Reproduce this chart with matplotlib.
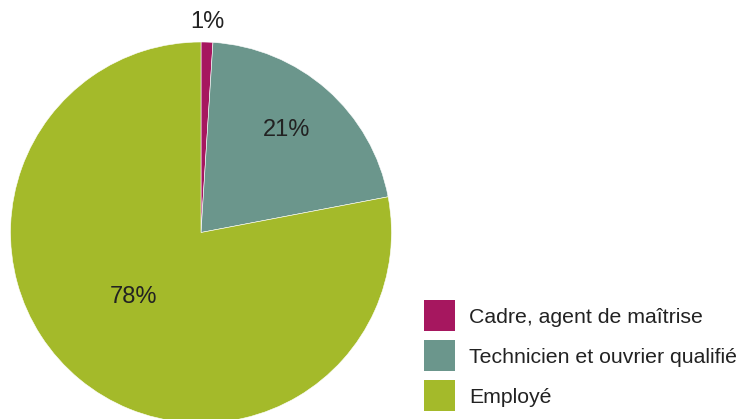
import matplotlib.pyplot as plt
from matplotlib.patches import Rectangle
import numpy as np

plt.rcParams['font.family'] = ['Liberation Sans', 'DejaVu Sans']

categories = ["Cadre, agent de maîtrise", "Technicien et ouvrier qualifié", "Employé"]
shares = [1, 21, 78]
colors = ["#A6175F", "#6B968C", "#A4BA2A"]

# label placement: radial distance (in radii) and angle nudge (degrees)
label_dist = [1.106, 0.70, 0.49]
label_nudge = [0, 1.4, -6.9]

W, H = 740, 419
fig = plt.figure(figsize=(W / 100, H / 100), dpi=100)

# pie centred at (201, 232.5) px, radius 190.5 px
r = 190.5
cx, cy = 201, 232.5
ax = fig.add_axes([(cx - r) / W, (H - cy - r) / H, 2 * r / W, 2 * r / H])

wedges, _ = ax.pie(shares, colors=colors, startangle=90, counterclock=False,
                   radius=1, wedgeprops=dict(edgecolor='white', linewidth=0.4))
ax.set_xlim(-1, 1)
ax.set_ylim(-1, 1)
ax.axis('off')
for w in wedges:
    w.set_clip_on(False)

for w, v, d, n in zip(wedges, shares, label_dist, label_nudge):
    ang = np.deg2rad((w.theta1 + w.theta2) / 2 + n)
    ax.text(d * np.cos(ang), d * np.sin(ang), f"{v}%", ha='center', va='center',
            fontsize=17, color='#222222', clip_on=False)

# legend: 31 px squares, 40 px apart
box, step = 31, 40
x0, y0 = 424, 300
for i, (lab, c) in enumerate(zip(categories, colors)):
    top = y0 + i * step
    fig.patches.append(Rectangle((x0 / W, 1 - (top + box) / H), box / W, box / H,
                                 transform=fig.transFigure, facecolor=c,
                                 edgecolor='none'))
    fig.text((x0 + box + 14) / W, 1 - (top + box / 2) / H, lab,
             ha='left', va='center_baseline', fontsize=15.3, color='#222222')

fig.savefig("out.png", dpi=100)
